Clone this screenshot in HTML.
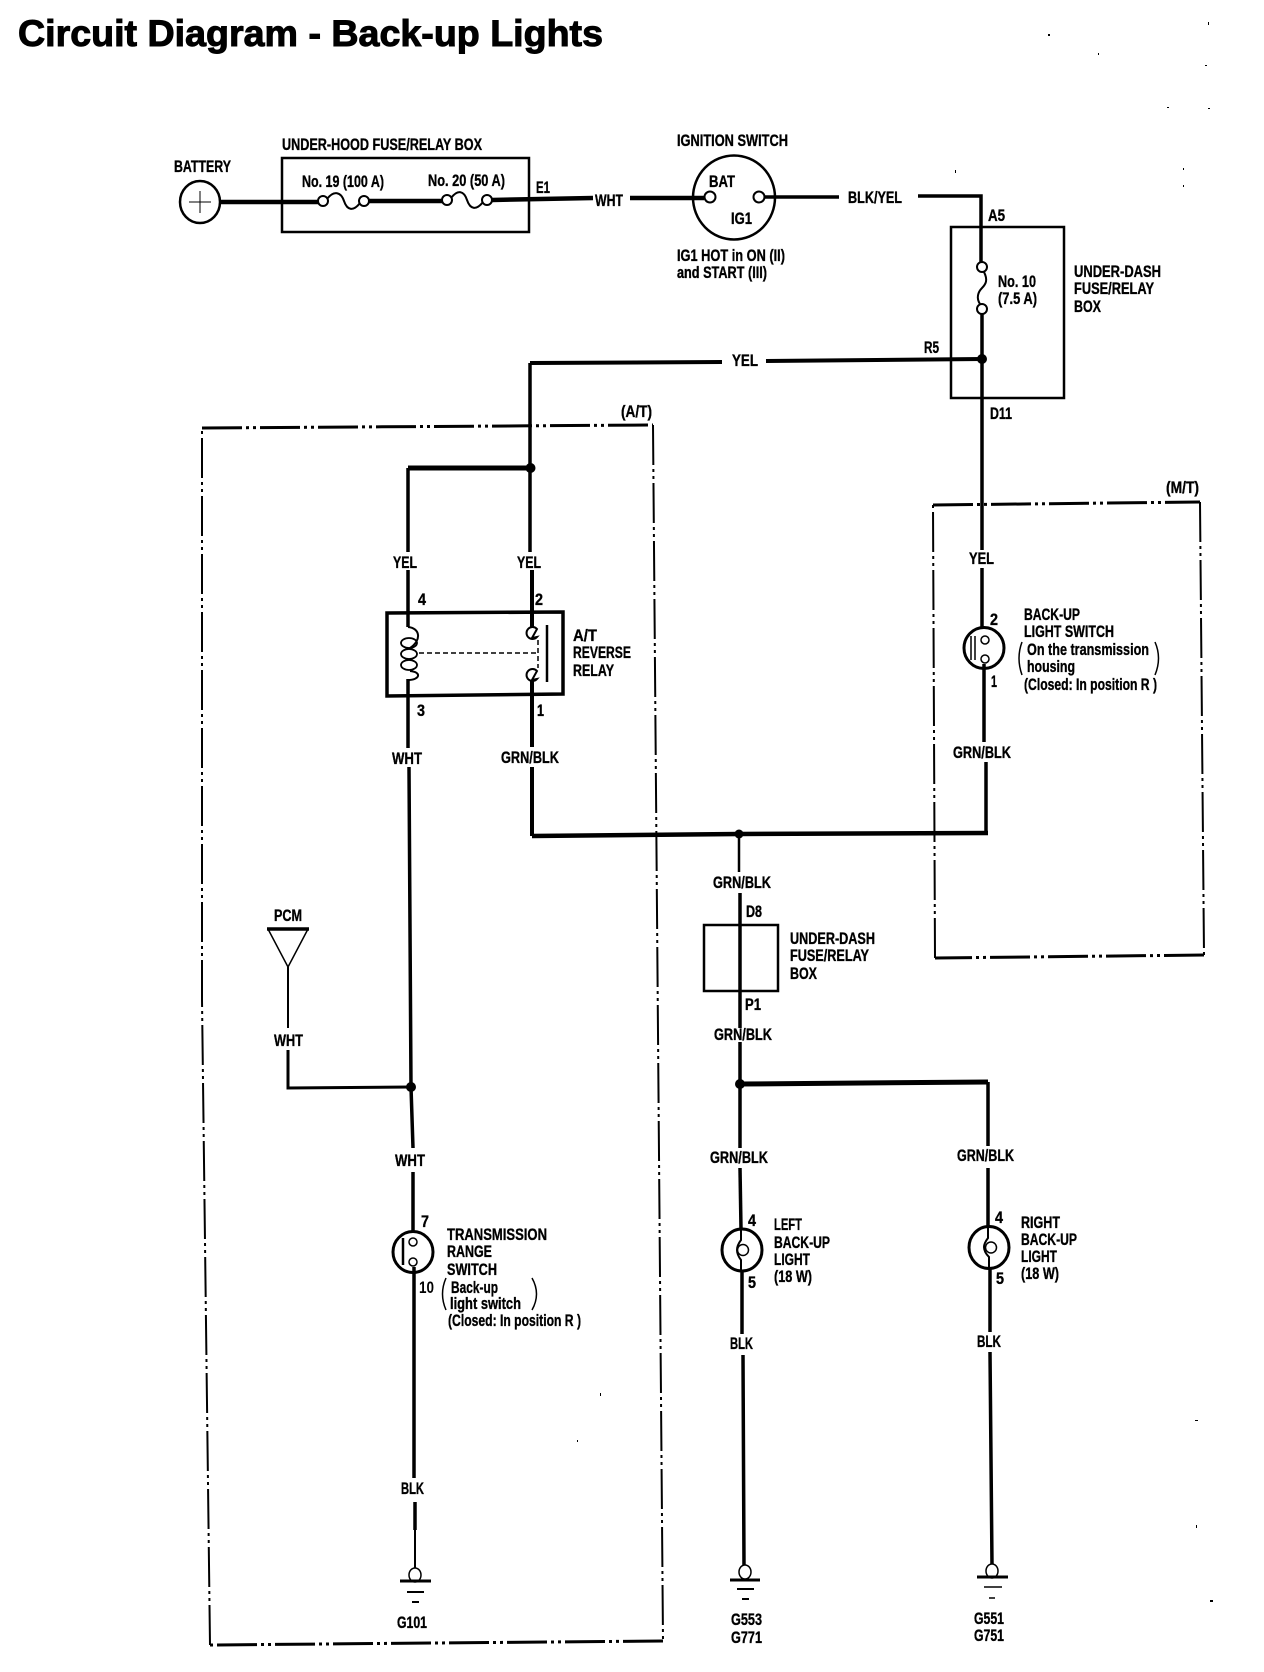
<!DOCTYPE html>
<html><head><meta charset="utf-8"><style>
html,body{margin:0;padding:0;background:#fff}
svg{display:block}
text{font-family:"Liberation Sans",sans-serif;font-weight:bold;font-size:16.5px;fill:#000;stroke:#000;stroke-width:.35px}
.w{fill:none;stroke:#000;stroke-linecap:butt;stroke-linejoin:miter}
.d{fill:none;stroke:#000;stroke-dasharray:40 4 3 4 3 4}
</style></head><body>
<svg width="1264" height="1672" viewBox="0 0 1264 1672" xmlns="http://www.w3.org/2000/svg">
<rect width="1264" height="1672" fill="#fff"/>
<text x="18" y="46" textLength="585" lengthAdjust="spacingAndGlyphs" style="font-size:37px;stroke-width:1px">Circuit Diagram - Back-up Lights</text>

<!-- dashed boxes -->
<path class="d" stroke-width="2" d="M202 1000V428"/><path class="d" stroke-width="2" d="M210 1645L202 1000"/>
<path class="d" stroke-width="3" d="M202 428L653 425"/>
<path class="d" stroke-width="2" d="M653 425L663 1641"/>
<path class="d" stroke-width="3" d="M663 1641L210 1645"/>
<path class="d" stroke-width="3" d="M933 505L1200 502"/>
<path class="d" stroke-width="2" d="M1200 502L1204 955"/>
<path class="d" stroke-width="3" d="M1204 955L935 958"/>
<path class="d" stroke-width="2" d="M935 958L933 505"/>

<!-- top row -->
<ellipse cx="200" cy="202" rx="20" ry="21" fill="none" stroke="#000" stroke-width="2.5"/>
<path class="w" stroke-width="1" d="M189 202H211M200 191V213"/>
<rect x="282" y="158" width="247" height="74" fill="none" stroke="#000" stroke-width="2.5"/>
<path class="w" stroke-width="4.500" d="M220 202H318M369 201H442M492 200L593 198M630 198H704"/>
<path class="w" stroke-width="3.500" d="M764 197H839M918 196H981V262"/>
<circle cx="323" cy="201" r="5" fill="#fff" stroke="#000" stroke-width="2"/>
<circle cx="364" cy="201" r="5" fill="#fff" stroke="#000" stroke-width="2"/>
<path class="w" stroke-width="2" d="M327 199C334 190 341 192 344 201S353 212 360 203"/>
<circle cx="447" cy="200" r="5" fill="#fff" stroke="#000" stroke-width="2"/>
<circle cx="487" cy="200" r="5" fill="#fff" stroke="#000" stroke-width="2"/>
<path class="w" stroke-width="2" d="M451 198C458 189 464 191 467 200S476 211 483 202"/>
<ellipse cx="734" cy="197.500" rx="41" ry="42" fill="none" stroke="#000" stroke-width="2.5"/>
<circle cx="710" cy="197" r="5.500" fill="#fff" stroke="#000" stroke-width="2"/>
<circle cx="759" cy="197" r="5.500" fill="#fff" stroke="#000" stroke-width="2"/>

<!-- under-dash box -->
<rect x="951" y="227" width="113" height="171" fill="none" stroke="#000" stroke-width="2.500"/>
<circle cx="982" cy="267" r="5" fill="#fff" stroke="#000" stroke-width="2"/>
<circle cx="982" cy="309" r="5" fill="#fff" stroke="#000" stroke-width="2"/>
<path class="w" stroke-width="2" d="M984 272C988 280 986 284 982 288S976 298 980 304"/>
<path class="w" stroke-width="3.500" d="M982 314V628"/>
<circle cx="982" cy="359" r="5" fill="#000"/>
<path class="w" stroke-width="4" d="M982 359L766 361M722 362L530 363"/>
<path class="w" stroke-width="3.500" d="M530 363V558"/>
<circle cx="530.500" cy="468" r="5" fill="#000"/>
<path class="w" stroke-width="5" d="M530 468H408"/>
<path class="w" stroke-width="3.500" d="M408 468V627"/>

<!-- relay -->
<path class="w" stroke-width="3.500" d="M387 613L563 612V694L387 696Z"/>
<path class="w" stroke-width="4" d="M532 570V627"/>
<path fill="#fff" stroke="#000" stroke-width="2" d="M537 629A6 6 0 1 0 537 637L532 638Z"/>
<path fill="#fff" stroke="#000" stroke-width="2" d="M537 671A6 6 0 1 0 537 679L532 680Z"/>
<path class="w" stroke-width="4" d="M532 680V747M532 767V836"/>
<path class="w" stroke-width="2.500" d="M547 625V682"/>
<path class="w" stroke-width="1.500" stroke-dasharray="5 3" d="M419 653H538M538 640V668"/>
<path class="w" stroke-width="2" d="M408 627C420 628 422 640 410 648M410 671C422 672 420 680 408 680"/>
<ellipse cx="409" cy="643" rx="8" ry="5" fill="none" stroke="#000" stroke-width="1.800"/>
<ellipse cx="409" cy="654" rx="8" ry="5" fill="none" stroke="#000" stroke-width="1.800"/>
<ellipse cx="409" cy="665" rx="8" ry="5" fill="none" stroke="#000" stroke-width="1.800"/>
<path class="w" stroke-width="3.500" d="M408 679V748M409 767L411 1087L413 1148M413 1172L413 1232"/>
<circle cx="411" cy="1087" r="5" fill="#000"/>

<!-- PCM -->
<path class="w" stroke-width="1.500" d="M268 929L288 967L308 929"/>
<path class="w" stroke-width="3.500" d="M267 929H309"/>
<path class="w" stroke-width="2" d="M288 967V1028"/>
<path class="w" stroke-width="3" d="M288 1050V1088L411 1087"/>

<!-- GRN/BLK bus -->
<path class="w" stroke-width="4.500" d="M532 836L739 834L988 833"/>
<path class="w" stroke-width="3.500" d="M986 762V834"/>
<circle cx="739" cy="834" r="4.500" fill="#000"/>
<path class="w" stroke-width="2.500" d="M739 834V872"/>
<path class="w" stroke-width="3.500" d="M740 893V1028M740 1042V1148"/>
<rect x="704" y="925" width="74" height="66" fill="none" stroke="#000" stroke-width="2.500"/>
<circle cx="740" cy="1084" r="5" fill="#000"/>
<path class="w" stroke-width="5" d="M740 1084L988 1082"/>
<path class="w" stroke-width="3.500" d="M988 1082V1146M988 1168V1226"/>
<path class="w" stroke-width="3.500" d="M740 1168L741 1229"/>

<!-- M/T switch -->
<ellipse cx="984" cy="648" rx="20" ry="20.500" fill="none" stroke="#000" stroke-width="3"/>
<circle cx="985" cy="640" r="4" fill="#fff" stroke="#000" stroke-width="1.500"/>
<circle cx="985" cy="659" r="4" fill="#fff" stroke="#000" stroke-width="1.500"/>
<path class="w" stroke-width="1.500" d="M971 636V660M975 636V660"/>
<path class="w" stroke-width="3.500" d="M984 664V742"/>

<!-- transmission switch -->
<ellipse cx="413" cy="1252" rx="20" ry="20.500" fill="none" stroke="#000" stroke-width="3"/>
<circle cx="413" cy="1242" r="4" fill="#fff" stroke="#000" stroke-width="1.500"/>
<circle cx="413" cy="1262" r="4" fill="#fff" stroke="#000" stroke-width="1.500"/>
<path class="w" stroke-width="2.500" d="M403 1238V1265"/>
<path class="w" stroke-width="3.500" d="M414 1267V1478M415 1502V1530"/>
<path class="w" stroke-width="2" d="M415 1530V1569"/>

<!-- bulbs -->
<ellipse cx="742" cy="1250" rx="20" ry="21" fill="none" stroke="#000" stroke-width="3"/>
<circle cx="743" cy="1250" r="5.500" fill="#fff" stroke="#000" stroke-width="1.500"/>
<path class="w" stroke-width="2" d="M741 1229V1240C738 1244 737 1247 737 1250M741 1271V1260C738 1256 737 1253 737 1250"/>
<path class="w" stroke-width="3.500" d="M742 1271V1334M743 1355L744 1567"/>
<ellipse cx="989" cy="1247.500" rx="20" ry="21" fill="none" stroke="#000" stroke-width="3"/>
<circle cx="991" cy="1247.500" r="5.500" fill="#fff" stroke="#000" stroke-width="1.500"/>
<path class="w" stroke-width="2" d="M988 1226V1238C985 1242 984 1245 984 1247M989 1269V1257C985 1253 984 1250 984 1247"/>
<path class="w" stroke-width="3.500" d="M990 1269V1332M990 1352L992 1565"/>

<!-- grounds -->
<ellipse cx="415" cy="1575" rx="6" ry="7" fill="#fff" stroke="#000" stroke-width="1.500"/>
<path class="w" stroke-width="3" d="M400 1581H431"/><path class="w" stroke-width="2" d="M407 1592H424M412 1602H419"/>
<ellipse cx="745" cy="1572" rx="6" ry="7" fill="#fff" stroke="#000" stroke-width="1.500"/>
<path class="w" stroke-width="3" d="M730 1580H760"/><path class="w" stroke-width="2" d="M737 1589H754M742 1599H749"/>
<ellipse cx="992" cy="1571" rx="6" ry="7" fill="#fff" stroke="#000" stroke-width="1.500"/>
<path class="w" stroke-width="3" d="M977 1577H1008"/><path class="w" stroke-width="1.500" d="M984 1587H1002M989 1598H995"/>

<!-- parens -->
<path class="w" stroke-width="1.500" d="M1022 642Q1016 658 1022 675M1155 642Q1162 658 1155 675"/>
<path class="w" stroke-width="1.500" d="M446 1278Q439 1294 446 1310M532 1278Q541 1294 532 1310"/>

<!-- labels -->
<text x="174" y="172" textLength="57" lengthAdjust="spacingAndGlyphs">BATTERY</text>
<text x="282" y="150" textLength="200" lengthAdjust="spacingAndGlyphs">UNDER-HOOD FUSE/RELAY BOX</text>
<text x="302" y="187" textLength="82" lengthAdjust="spacingAndGlyphs">No. 19 (100 A)</text>
<text x="428" y="186" textLength="77" lengthAdjust="spacingAndGlyphs">No. 20 (50 A)</text>
<text x="536" y="193" textLength="14" lengthAdjust="spacingAndGlyphs">E1</text>
<text x="595" y="206" textLength="28" lengthAdjust="spacingAndGlyphs">WHT</text>
<text x="677" y="146" textLength="111" lengthAdjust="spacingAndGlyphs">IGNITION SWITCH</text>
<text x="709" y="187" textLength="26" lengthAdjust="spacingAndGlyphs">BAT</text>
<text x="731" y="224" textLength="21" lengthAdjust="spacingAndGlyphs">IG1</text>
<text x="677" y="261" textLength="108" lengthAdjust="spacingAndGlyphs">IG1 HOT in ON (II)</text>
<text x="677" y="278" textLength="90" lengthAdjust="spacingAndGlyphs">and START (III)</text>
<text x="848" y="203" textLength="54" lengthAdjust="spacingAndGlyphs">BLK/YEL</text>
<text x="988" y="221" textLength="17" lengthAdjust="spacingAndGlyphs">A5</text>
<text x="998" y="287" textLength="38" lengthAdjust="spacingAndGlyphs">No. 10</text>
<text x="998" y="304" textLength="39" lengthAdjust="spacingAndGlyphs">(7.5 A)</text>
<text x="1074" y="277" textLength="87" lengthAdjust="spacingAndGlyphs">UNDER-DASH</text>
<text x="1074" y="294" textLength="80" lengthAdjust="spacingAndGlyphs">FUSE/RELAY</text>
<text x="1074" y="312" textLength="27" lengthAdjust="spacingAndGlyphs">BOX</text>
<text x="924" y="353" textLength="15" lengthAdjust="spacingAndGlyphs">R5</text>
<text x="732" y="366" textLength="26" lengthAdjust="spacingAndGlyphs">YEL</text>
<text x="990" y="419" textLength="22" lengthAdjust="spacingAndGlyphs">D11</text>
<text x="621" y="417" textLength="31" lengthAdjust="spacingAndGlyphs">(A/T)</text>
<text x="1166" y="493" textLength="33" lengthAdjust="spacingAndGlyphs">(M/T)</text>

<rect x="391" y="552" width="30" height="18" fill="#fff"/><text x="393" y="568" textLength="24" lengthAdjust="spacingAndGlyphs">YEL</text>
<rect x="515" y="552" width="30" height="18" fill="#fff"/><text x="517" y="568" textLength="24" lengthAdjust="spacingAndGlyphs">YEL</text>
<rect x="967" y="550" width="30" height="18" fill="#fff"/><text x="969" y="564" textLength="25" lengthAdjust="spacingAndGlyphs">YEL</text>
<text x="418" y="605" textLength="8" lengthAdjust="spacingAndGlyphs">4</text>
<text x="535" y="605" textLength="8" lengthAdjust="spacingAndGlyphs">2</text>
<text x="417" y="716" textLength="8" lengthAdjust="spacingAndGlyphs">3</text>
<text x="537" y="716" textLength="7" lengthAdjust="spacingAndGlyphs">1</text>
<text x="573" y="641" textLength="24" lengthAdjust="spacingAndGlyphs">A/T</text>
<text x="573" y="658" textLength="58" lengthAdjust="spacingAndGlyphs">REVERSE</text>
<text x="573" y="676" textLength="41" lengthAdjust="spacingAndGlyphs">RELAY</text>
<text x="392" y="764" textLength="30" lengthAdjust="spacingAndGlyphs">WHT</text>
<text x="501" y="763" textLength="58" lengthAdjust="spacingAndGlyphs">GRN/BLK</text>
<text x="990" y="625" textLength="8" lengthAdjust="spacingAndGlyphs">2</text>
<text x="991" y="687" textLength="6" lengthAdjust="spacingAndGlyphs">1</text>
<text x="1024" y="620" textLength="56" lengthAdjust="spacingAndGlyphs">BACK-UP</text>
<text x="1024" y="637" textLength="90" lengthAdjust="spacingAndGlyphs">LIGHT SWITCH</text>
<text x="1027" y="655" textLength="122" lengthAdjust="spacingAndGlyphs">On the transmission</text>
<text x="1027" y="672" textLength="48" lengthAdjust="spacingAndGlyphs">housing</text>
<text x="1024" y="690" textLength="133" lengthAdjust="spacingAndGlyphs">(Closed: In position R )</text>
<text x="953" y="758" textLength="58" lengthAdjust="spacingAndGlyphs">GRN/BLK</text>
<text x="713" y="888" textLength="58" lengthAdjust="spacingAndGlyphs">GRN/BLK</text>
<text x="746" y="917" textLength="16" lengthAdjust="spacingAndGlyphs">D8</text>
<text x="790" y="944" textLength="85" lengthAdjust="spacingAndGlyphs">UNDER-DASH</text>
<text x="790" y="961" textLength="79" lengthAdjust="spacingAndGlyphs">FUSE/RELAY</text>
<text x="790" y="979" textLength="27" lengthAdjust="spacingAndGlyphs">BOX</text>
<text x="745" y="1010" textLength="16" lengthAdjust="spacingAndGlyphs">P1</text>
<text x="714" y="1040" textLength="58" lengthAdjust="spacingAndGlyphs">GRN/BLK</text>
<text x="274" y="921" textLength="28" lengthAdjust="spacingAndGlyphs">PCM</text>
<text x="274" y="1046" textLength="29" lengthAdjust="spacingAndGlyphs">WHT</text>
<text x="395" y="1166" textLength="30" lengthAdjust="spacingAndGlyphs">WHT</text>
<text x="710" y="1163" textLength="58" lengthAdjust="spacingAndGlyphs">GRN/BLK</text>
<text x="957" y="1161" textLength="57" lengthAdjust="spacingAndGlyphs">GRN/BLK</text>
<text x="421" y="1227" textLength="8" lengthAdjust="spacingAndGlyphs">7</text>
<text x="419" y="1293" textLength="15" lengthAdjust="spacingAndGlyphs" style="stroke-width:0">10</text>
<text x="447" y="1240" textLength="100" lengthAdjust="spacingAndGlyphs">TRANSMISSION</text>
<text x="447" y="1257" textLength="45" lengthAdjust="spacingAndGlyphs">RANGE</text>
<text x="447" y="1275" textLength="50" lengthAdjust="spacingAndGlyphs">SWITCH</text>
<text x="451" y="1293" textLength="47" lengthAdjust="spacingAndGlyphs">Back-up</text>
<text x="450" y="1309" textLength="71" lengthAdjust="spacingAndGlyphs">light switch</text>
<text x="448" y="1326" textLength="133" lengthAdjust="spacingAndGlyphs">(Closed: In position R )</text>
<text x="748" y="1226" textLength="8" lengthAdjust="spacingAndGlyphs">4</text>
<text x="748" y="1288" textLength="8" lengthAdjust="spacingAndGlyphs">5</text>
<text x="774" y="1230" textLength="28" lengthAdjust="spacingAndGlyphs">LEFT</text>
<text x="774" y="1248" textLength="56" lengthAdjust="spacingAndGlyphs">BACK-UP</text>
<text x="774" y="1265" textLength="36" lengthAdjust="spacingAndGlyphs">LIGHT</text>
<text x="774" y="1282" textLength="38" lengthAdjust="spacingAndGlyphs">(18 W)</text>
<text x="995" y="1223" textLength="8" lengthAdjust="spacingAndGlyphs">4</text>
<text x="996" y="1284" textLength="8" lengthAdjust="spacingAndGlyphs">5</text>
<text x="1021" y="1228" textLength="39" lengthAdjust="spacingAndGlyphs">RIGHT</text>
<text x="1021" y="1245" textLength="56" lengthAdjust="spacingAndGlyphs">BACK-UP</text>
<text x="1021" y="1262" textLength="36" lengthAdjust="spacingAndGlyphs">LIGHT</text>
<text x="1021" y="1279" textLength="38" lengthAdjust="spacingAndGlyphs">(18 W)</text>
<text x="730" y="1349" textLength="23" lengthAdjust="spacingAndGlyphs">BLK</text>
<text x="977" y="1347" textLength="24" lengthAdjust="spacingAndGlyphs">BLK</text>
<text x="401" y="1494" textLength="23" lengthAdjust="spacingAndGlyphs">BLK</text>
<text x="397" y="1628" textLength="30" lengthAdjust="spacingAndGlyphs">G101</text>
<text x="731" y="1625" textLength="31" lengthAdjust="spacingAndGlyphs">G553</text>
<text x="731" y="1643" textLength="31" lengthAdjust="spacingAndGlyphs">G771</text>
<text x="974" y="1624" textLength="30" lengthAdjust="spacingAndGlyphs">G551</text>
<text x="974" y="1641" textLength="30" lengthAdjust="spacingAndGlyphs">G751</text>

<!-- scan specks -->
<g fill="#000"><rect x="1048" y="34" width="2" height="2"/><rect x="1208" y="22" width="1" height="3"/><rect x="1098" y="53" width="1" height="2"/><rect x="1205" y="65" width="2" height="1"/><rect x="1167" y="107" width="2" height="1"/><rect x="1208" y="108" width="2" height="1"/><rect x="955" y="170" width="1" height="3"/><rect x="1183" y="168" width="1" height="2"/><rect x="1183" y="185" width="1" height="2"/><rect x="1195" y="1420" width="3" height="1"/><rect x="1210" y="1600" width="3" height="2"/><rect x="1196" y="1525" width="1" height="3"/><rect x="600" y="1393" width="1" height="3"/><rect x="577" y="1440" width="1" height="2"/></g>
</svg>
</body></html>
